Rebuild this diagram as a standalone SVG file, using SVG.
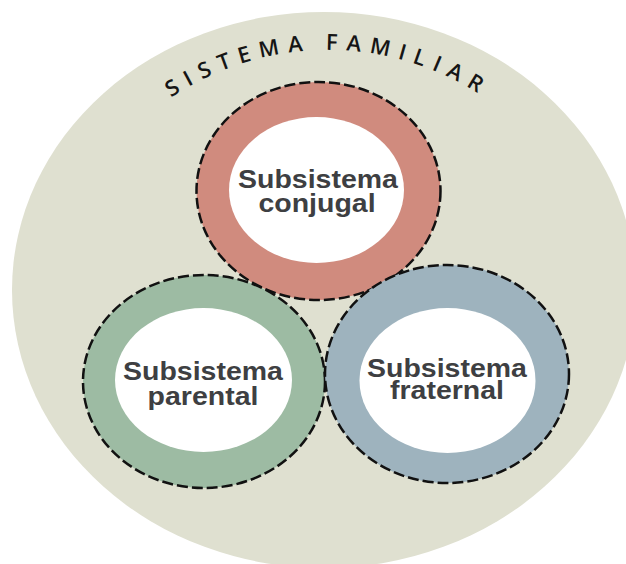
<svg xmlns="http://www.w3.org/2000/svg" width="626" height="564" viewBox="0 0 626 564">
  <style>
    .ring { stroke: #111; stroke-width: 2.5; stroke-dasharray: 11 4; }
    .inner { fill: #ffffff; }
    .lbl { font-family: "Liberation Sans", Arial, sans-serif; font-weight: bold; font-size: 28.5px; fill: #3e3f42; text-anchor: middle; }
    .title { font-family: "Open Sans", "Liberation Sans", sans-serif; font-weight: 600; font-size: 22px; fill: #151515; letter-spacing: 8.5px; }
  </style>
  <defs>
    <path id="arc" d="M 46 332 A 282 282 0 0 1 610 332"/>
  </defs>
  <rect width="626" height="564" fill="#ffffff"/>
  <g id="sistema-familiar">
    <ellipse cx="324" cy="290" rx="312" ry="278" fill="#dfe0d0"/>
    <text class="title" text-anchor="middle"><textPath href="#arc" startOffset="50%">SISTEMA FAMILIAR</textPath></text>
  </g>
  <g id="connectors"></g>
  <g id="subsistema-conjugal">
    <ellipse class="ring" cx="318.5" cy="191" rx="122" ry="109" fill="#d08b7e"/>
    <ellipse class="inner" cx="316.5" cy="190" rx="87.5" ry="73"/>
    <text class="lbl" transform="matrix(1 0 0 0.9 318 188)">Subsistema</text>
    <text class="lbl" transform="matrix(1 0 0 0.9 317 212)">conjugal</text>
  </g>
  <g id="subsistema-parental">
    <ellipse class="ring" cx="204" cy="381.5" rx="121" ry="106.5" fill="#9dbba3"/>
    <ellipse class="inner" cx="203.5" cy="380" rx="88.5" ry="72"/>
    <text class="lbl" transform="matrix(1 0 0 0.9 203 380)">Subsistema</text>
    <text class="lbl" transform="matrix(1 0 0 0.9 203 405)">parental</text>
  </g>
  <g id="subsistema-fraternal">
    <ellipse class="ring" cx="447" cy="374" rx="122" ry="109" fill="#9eb3be"/>
    <ellipse class="inner" cx="447.5" cy="380.5" rx="88" ry="72.5"/>
    <text class="lbl" transform="matrix(1 0 0 0.9 447 377)">Subsistema</text>
    <text class="lbl" transform="matrix(1 0 0 0.9 447 399)">fraternal</text>
  </g>
</svg>
